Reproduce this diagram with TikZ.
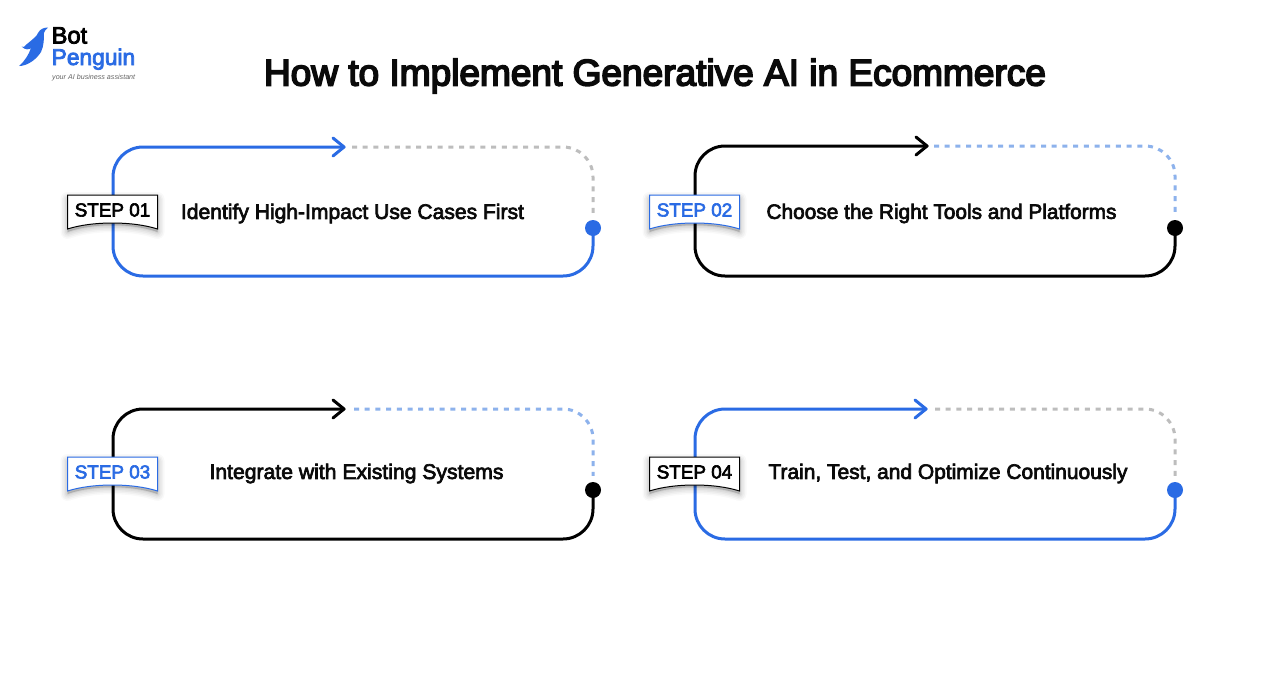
\documentclass[tikz,border=0pt]{standalone}
\usepackage{fontspec}
\usepackage{graphicx}
\setmainfont[FakeBold=3.2]{Liberation Sans}
\newfontfamily\titlefont[FakeBold=4.6]{Liberation Sans}
\newfontfamily\logofont[FakeBold=3.5]{Liberation Sans}
\newfontfamily\tagfont{Liberation Sans}
\definecolor{bpblue}{HTML}{2A6BE4}
\definecolor{bpink}{HTML}{0A0A0A}
\definecolor{dotgray}{HTML}{BDBDBD}
\definecolor{dotblue}{HTML}{8DB2EC}
\tikzset{
  x=1pt,y=-1pt,
  rail/.style={line width=3pt,line cap=round,line join=round},
  railhead/.style={line width=3pt,line cap=round,line join=round},
  dots/.style={line width=3pt,dash pattern=on 5pt off 5.7pt},
  enddot/.style={circle,inner sep=0pt,minimum size=16pt},
  steptitle/.style={inner sep=0pt,anchor=center,text=bpink},
  bannertext/.style={inner sep=0pt,anchor=center}
}
% id, left, top, bottom, tip, dotted start, dot y, colour, dotted colour
\newcommand{\railpanel}[9]{%
  \pgfmathsetmacro{\rgt}{#2+480}
  \coordinate (#1start) at (#5,#3);
  \coordinate (#1dots) at (#6,#3);
  \coordinate (#1nw) at (#2,#3);
  \coordinate (#1sw) at (#2,#4);
  \coordinate (#1se) at (\rgt,#4);
  \coordinate (#1ne) at (\rgt,#3);
  \node[enddot,fill=#8] (#1dot) at (\rgt,#7) {};
  \draw[rail,draw=#8] (#1dot.center) -- ([yshift=30pt]#1se) arc[start angle=0,end angle=90,x radius=30pt,y radius=-30pt] -- ([xshift=30pt]#1sw) arc[start angle=90,end angle=180,x radius=30pt,y radius=-30pt] -- ([yshift=-30pt]#1nw) arc[start angle=180,end angle=270,x radius=30pt,y radius=-30pt] -- (#1start);
  \draw[railhead,draw=#8] ([xshift=-11pt,yshift=-9pt]#1start) -- (#1start) -- ([xshift=-11pt,yshift=9pt]#1start);
  \draw[dots,draw=#9] (#1dots) -- ([xshift=-30pt]#1ne) arc[start angle=270,end angle=360,x radius=30pt,y radius=-30pt] -- ([yshift=6pt]#1dot.north);
}
% id, left, top, colour, text
\newcommand{\banner}[5]{%
  \pgfmathsetmacro{\bx}{#2+90}
  \pgfmathsetmacro{\by}{#3+34}
  \pgfmathsetmacro{\bm}{#2+45}
  \pgfmathsetmacro{\bc}{#3+26}
  \foreach \g/\o in {7/.025,5.5/.03,4/.035,2.5/.04,1/.05}{
    \filldraw[fill=black,draw=black,fill opacity=\o,draw opacity=\o,line width=\g*2 pt,line join=round] (#2,#3+4) -- (\bx,#3+4) -- (\bx,\by+3) .. controls (\bx-25,\bc+2) and (#2+25,\bc+2) .. (#2,\by+3) -- cycle;
  }
  \filldraw[fill=white,draw=#4,line width=1pt,line join=miter] (#2,#3) -- (\bx,#3) -- (\bx,\by) .. controls (\bx-25,\bc) and (#2+25,\bc) .. (#2,\by) -- cycle;
  \node[bannertext,text=#4] (#1) at (\bm,#3+15) {\resizebox{75.5pt}{!}{\fontsize{20pt}{22pt}\selectfont #5}};
}
\begin{document}
\begin{tikzpicture}
\useasboundingbox (0,0) rectangle (1288,686);
\fill[white] (0,0) rectangle (1288,686);

% logo
\fill[bpblue] (48,27.5) .. controls (44,27.5) and (40,29) .. (38,33) .. controls (37,36) and (33,39) .. (27,44) .. controls (24,47) and (23,48) .. (21.5,46.5) .. controls (25,50) and (29,50) .. (31,48) .. controls (29,54) and (25,61) .. (19,66) .. controls (27,66) and (36,60) .. (41,52) .. controls (44,46) and (44,38) .. (44,33) .. controls (44.5,31) and (46,29) .. (48,27.5) -- cycle;
\node[inner sep=0pt,anchor=base west,text=black] (logoa) at (51.5,43.5) {\resizebox{35.5pt}{!}{\logofont\fontsize{22pt}{24pt}\selectfont Bot}};
\node[inner sep=0pt,anchor=base west,text=bpblue] (logob) at (51.5,65) {\resizebox{83.5pt}{!}{\logofont\fontsize{22pt}{24pt}\selectfont Penguin}};
\node[inner sep=0pt,anchor=base west,text=black!60] (logoc) at (52,79) {\resizebox{83pt}{!}{\tagfont\itshape\fontsize{7.5pt}{9pt}\selectfont your AI business assistant}};

% title
\node[inner sep=0pt,anchor=base,text=bpink] (title) at (655,85.5) {\resizebox{782pt}{!}{\titlefont\fontsize{36pt}{40pt}\selectfont How to Implement Generative AI in Ecommerce}};

% panels
\railpanel{a}{113}{147}{276}{344}{352}{228}{bpblue}{dotgray}
\railpanel{b}{695}{146}{276}{927}{934}{228}{black}{dotblue}
\railpanel{c}{113}{409}{539}{344}{354}{490}{black}{dotblue}
\railpanel{d}{695}{409}{539}{926}{935}{490}{bpblue}{dotgray}

% banners
\banner{sa}{67.5}{195}{black}{STEP 01}
\banner{sb}{649.5}{195}{bpblue}{STEP 02}
\banner{sc}{67.5}{457}{bpblue}{STEP 03}
\banner{sd}{649.5}{457}{black}{STEP 04}

% step texts
\node[steptitle] (ta) at (352.5,213.5) {\resizebox{343pt}{!}{\fontsize{20pt}{22pt}\selectfont Identify High-Impact Use Cases First}};
\node[steptitle] (tb) at (941.5,213.5) {\resizebox{350pt}{!}{\fontsize{20pt}{22pt}\selectfont Choose the Right Tools and Platforms}};
\node[steptitle] (tc) at (356.5,473.5) {\resizebox{294pt}{!}{\fontsize{20pt}{22pt}\selectfont Integrate with Existing Systems}};
\node[steptitle] (td) at (948,473.5) {\resizebox{359pt}{!}{\fontsize{20pt}{22pt}\selectfont Train, Test, and Optimize Continuously}};
\end{tikzpicture}
\end{document}
